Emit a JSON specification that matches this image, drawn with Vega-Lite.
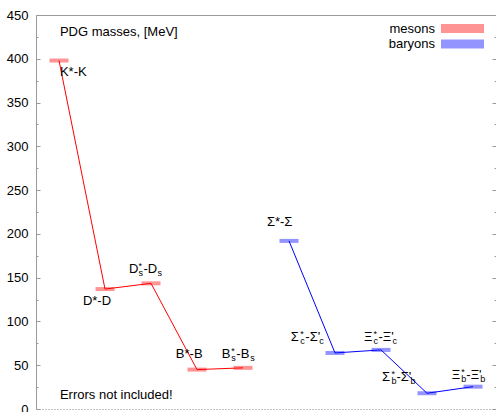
{
  "$schema": "https://vega.github.io/schema/vega-lite/v6.json",
  "width": 460,
  "height": 394,
  "autosize": {"type": "none"},
  "padding": {"left": 36, "top": 15, "right": 0, "bottom": 3},
  "background": "white",
  "config": {
    "view": {"stroke": null},
    "font": "Liberation Sans",
    "text": {"font": "Liberation Sans", "fontSize": 13, "color": "#000"},
    "axis": {"labelFont": "Liberation Sans", "labelFontSize": 13, "labelColor": "#000", "domainColor": "#9a9a9a", "tickColor": "#9a9a9a", "grid": false, "title": null}
  },
  "datasets": {
    "pts": [
      {"idx": 0.5, "mev": 398, "group": "mesons"},
      {"idx": 1.5, "mev": 137, "group": "mesons"},
      {"idx": 2.5, "mev": 143.5, "group": "mesons"},
      {"idx": 3.5, "mev": 45, "group": "mesons"},
      {"idx": 4.5, "mev": 47, "group": "mesons"},
      {"idx": 5.5, "mev": 192, "group": "baryons"},
      {"idx": 6.5, "mev": 64, "group": "baryons"},
      {"idx": 7.5, "mev": 67.5, "group": "baryons"},
      {"idx": 8.5, "mev": 18, "group": "baryons"},
      {"idx": 9.5, "mev": 25.5, "group": "baryons"}
    ],
    "labels": [
      {"lx": 0.52, "ly": 385, "a": "K*-K", "sup": "", "s1": "", "b": "", "s2": ""},
      {"lx": 1.02, "ly": 123, "a": "D*-D", "sup": "", "s1": "", "b": "", "s2": ""},
      {"lx": 2.02, "ly": 160, "a": "D", "sup": "*", "s1": "s", "b": "-D", "s2": "s"},
      {"lx": 3.04, "ly": 63, "a": "B*-B", "sup": "", "s1": "", "b": "", "s2": ""},
      {"lx": 4.04, "ly": 63, "a": "B", "sup": "*", "s1": "s", "b": "-B", "s2": "s"},
      {"lx": 5.02, "ly": 213.6, "a": "Σ*-Σ", "sup": "", "s1": "", "b": "", "s2": ""},
      {"lx": 5.54, "ly": 82, "a": "Σ", "sup": "*", "s1": "c", "b": "-Σ'", "s2": "c"},
      {"lx": 7.13, "ly": 82, "a": "Ξ", "sup": "*", "s1": "c", "b": "-Ξ'", "s2": "c"},
      {"lx": 7.52, "ly": 36.5, "a": "Σ", "sup": "*", "s1": "b", "b": "-Σ'", "s2": "b"},
      {"lx": 9.04, "ly": 39, "a": "Ξ", "sup": "*", "s1": "b", "b": "-Ξ'", "s2": "b"}
    ],
    "notes": [
      {"lx": 0.52, "ly": 430.6, "t": "PDG masses, [MeV]"},
      {"lx": 0.52, "ly": 16, "t": "Errors not included!"}
    ]
  },
  "resolve": {"axis": {"x": "independent", "y": "independent"}, "legend": {"color": "independent"}},
  "layer": [
    {
      "data": {"name": "pts"},
      "mark": {"type": "tick", "orient": "horizontal", "size": 19, "thickness": 4, "opacity": 0.42},
      "encoding": {
        "x": {"field": "idx", "type": "quantitative", "scale": {"domain": [0, 10], "nice": false, "zero": false},
              "axis": {"orient": "bottom", "labels": false, "ticks": false, "domainDash": [1, 2], "domainColor": "#888888"}},
        "y": {"field": "mev", "type": "quantitative", "scale": {"domain": [0, 450], "nice": false},
              "axis": {"orient": "left", "values": [0,25,50,75,100,125,150,175,200,225,250,275,300,325,350,375,400,425,450],
                       "labelExpr": "datum.value % 50 === 0 ? datum.label : ''",
                       "tickSize": {"condition": {"test": "datum.value % 50 === 0", "value": -4}, "value": -2},
                       "labelPadding": 12}},
        "color": {"field": "group", "type": "nominal", "scale": {"domain": ["mesons", "baryons"], "range": ["#ff0000", "#0000ff"]},
                  "legend": {"title": null, "orient": "none", "legendX": 420, "legendY": 7,
                             "symbolType": "M-4,-0.84H4V0.84H-4Z", "symbolSize": 115.6, "symbolOpacity": 0.42, "symbolStrokeWidth": 0,
                             "labelAlign": "right", "labelOffset": -34, "labelFontSize": 13, "labelFont": "Liberation Sans",
                             "labelColor": "#000", "rowPadding": 1.5, "padding": 0, "labelLimit": 200}}
      }
    },
    {
      "data": {"name": "pts"},
      "mark": {"type": "line", "strokeWidth": 1},
      "encoding": {
        "x": {"field": "idx", "type": "quantitative", "axis": {"orient": "top", "labels": false, "ticks": false, "domainColor": "#9a9a9a"}},
        "y": {"field": "mev", "type": "quantitative",
              "axis": {"orient": "right", "values": [0,25,50,75,100,125,150,175,200,225,250,275,300,325,350,375,400,425,450],
                       "labels": false, "domain": false,
                       "tickSize": {"condition": {"test": "datum.value % 50 === 0", "value": -4}, "value": -2}}},
        "color": {"field": "group", "type": "nominal", "legend": null}
      }
    },
    {
      "data": {"name": "labels"},
      "mark": {"type": "text", "align": "left", "baseline": "middle", "fontSize": 13},
      "encoding": {
        "x": {"field": "lx", "type": "quantitative", "axis": null},
        "y": {"field": "ly", "type": "quantitative", "axis": null},
        "text": {"field": "a"}
      }
    },
    {
      "data": {"name": "labels"},
      "mark": {"type": "text", "align": "left", "baseline": "middle", "fontSize": 9, "dx": 9.5, "dy": -3},
      "encoding": {
        "x": {"field": "lx", "type": "quantitative", "axis": null},
        "y": {"field": "ly", "type": "quantitative", "axis": null},
        "text": {"field": "sup"}
      }
    },
    {
      "data": {"name": "labels"},
      "mark": {"type": "text", "align": "left", "baseline": "middle", "fontSize": 9, "dx": 9.5, "dy": 4},
      "encoding": {
        "x": {"field": "lx", "type": "quantitative", "axis": null},
        "y": {"field": "ly", "type": "quantitative", "axis": null},
        "text": {"field": "s1"}
      }
    },
    {
      "data": {"name": "labels"},
      "mark": {"type": "text", "align": "left", "baseline": "middle", "fontSize": 13, "dx": 14.5},
      "encoding": {
        "x": {"field": "lx", "type": "quantitative", "axis": null},
        "y": {"field": "ly", "type": "quantitative", "axis": null},
        "text": {"field": "b"}
      }
    },
    {
      "data": {"name": "labels"},
      "mark": {"type": "text", "align": "left", "baseline": "middle", "fontSize": 9, "dx": 28.5, "dy": 4},
      "encoding": {
        "x": {"field": "lx", "type": "quantitative", "axis": null},
        "y": {"field": "ly", "type": "quantitative", "axis": null},
        "text": {"field": "s2"}
      }
    },
    {
      "data": {"name": "notes"},
      "mark": {"type": "text", "align": "left", "baseline": "middle", "fontSize": 13},
      "encoding": {
        "x": {"field": "lx", "type": "quantitative", "axis": null},
        "y": {"field": "ly", "type": "quantitative", "axis": null},
        "text": {"field": "t"}
      }
    }
  ]
}
